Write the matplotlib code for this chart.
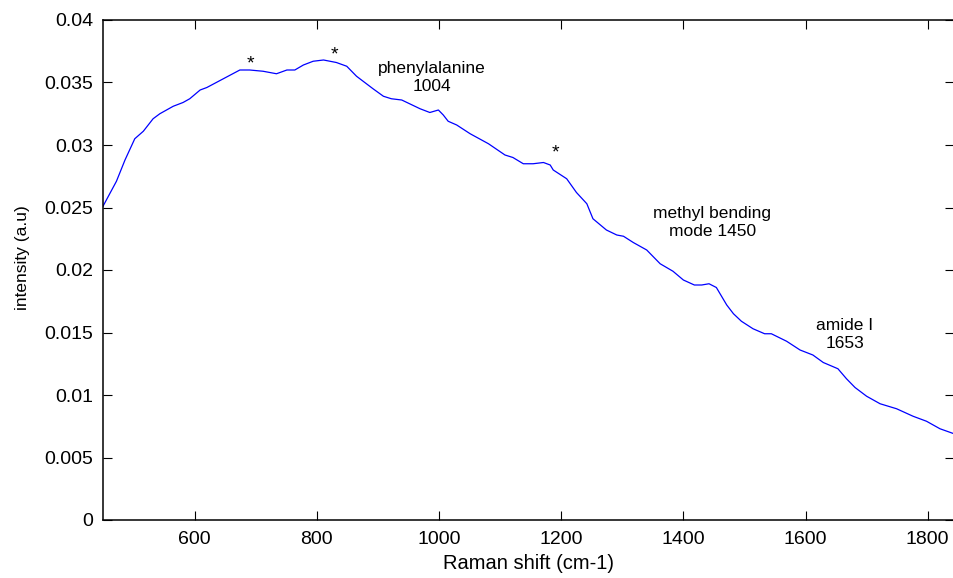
import numpy as np
import matplotlib
matplotlib.use("Agg")
import matplotlib.pyplot as plt

# spectrum
shift = [450, 472, 486, 502, 516, 532, 543, 565, 581, 592,
         609, 620, 647, 674, 690, 712, 734, 751, 764, 778,
         794, 811, 832, 849, 865, 892, 909, 922, 939, 969,
         985, 999, 1007, 1015, 1029, 1051, 1081, 1108, 1121, 1138,
         1154, 1171, 1182, 1187, 1209, 1225, 1242, 1252, 1274, 1291,
         1302, 1318, 1340, 1362, 1383, 1400, 1418, 1430, 1442, 1454,
         1471, 1482, 1495, 1514, 1533, 1544, 1569, 1591, 1612, 1629,
         1653, 1667, 1681, 1700, 1722, 1749, 1776, 1798, 1820, 1843]
intensity = [0.0251, 0.0271, 0.0288, 0.0305, 0.0311, 0.0321, 0.0325, 0.0331, 0.0334, 0.0337,
             0.0344, 0.0346, 0.0353, 0.0360, 0.0360, 0.0359, 0.0357, 0.0360, 0.0360, 0.0364,
             0.0367, 0.0368, 0.0366, 0.0363, 0.0355, 0.0345, 0.0339, 0.0337, 0.0336, 0.0329,
             0.0326, 0.0328, 0.0324, 0.0319, 0.0316, 0.0309, 0.0301, 0.0292, 0.0290, 0.0285,
             0.0285, 0.0286, 0.0284, 0.0280, 0.0273, 0.0262, 0.0253, 0.0241, 0.0232, 0.0228,
             0.0227, 0.0222, 0.0216, 0.0205, 0.0199, 0.0192, 0.0188, 0.0188, 0.0189, 0.0186,
             0.0172, 0.0165, 0.0159, 0.0153, 0.0149, 0.0149, 0.0143, 0.0136, 0.0132, 0.0126,
             0.0121, 0.0113, 0.0106, 0.0099, 0.0093, 0.0089, 0.0083, 0.0079, 0.0073, 0.0069]

xticks = [600, 800, 1000, 1200, 1400, 1600, 1800]
yticks = [0, 0.005, 0.01, 0.015, 0.02, 0.025, 0.03, 0.035, 0.04]
ytick_labels = ["0", "0.005", "0.01", "0.015", "0.02", "0.025", "0.03", "0.035", "0.04"]

# peak labels: (x, y, text)
labels = [(988, 0.0354, "phenylalanine\n1004"),
          (1447, 0.0238, "methyl bending\nmode 1450"),
          (1664, 0.01485, "amide I\n1653")]
stars = [(692, 0.0365), (829, 0.0372), (1190, 0.0294)]

plt.rcParams['font.family'] = ['Liberation Sans', 'DejaVu Sans']

fig = plt.figure(figsize=(9.54, 5.78), dpi=100)
ax = fig.add_axes([103/954, 58/578, 851/954, 500/578])
ax.plot(shift, intensity, color=(0, 0, 1), lw=0.9)

for x, y, t in labels:
    ax.text(x, y, t, ha="center", va="center", fontsize=12.5, linespacing=1.25)
for x, y in stars:
    ax.text(x, y, "*", ha="center", va="center", fontsize=14)

ax.set_xlim(450, 1843)
ax.set_ylim(0, 0.04)
ax.set_xticks(xticks)
ax.set_yticks(yticks)
ax.set_yticklabels(ytick_labels)
ax.tick_params(direction="in", length=6.5, width=0.8, labelsize=14,
               top=True, right=True)
ax.tick_params(axis="x", pad=8)
ax.tick_params(axis="y", pad=7)
for s in ax.spines.values():
    s.set_linewidth(1.1)
ax.set_xlabel("Raman shift (cm-1)", fontsize=14.5, labelpad=4)
ax.set_ylabel("intensity (a.u)", fontsize=12.5)
ax.yaxis.set_label_coords(-0.086, 0.524)

plt.savefig("out.png", dpi=100)
